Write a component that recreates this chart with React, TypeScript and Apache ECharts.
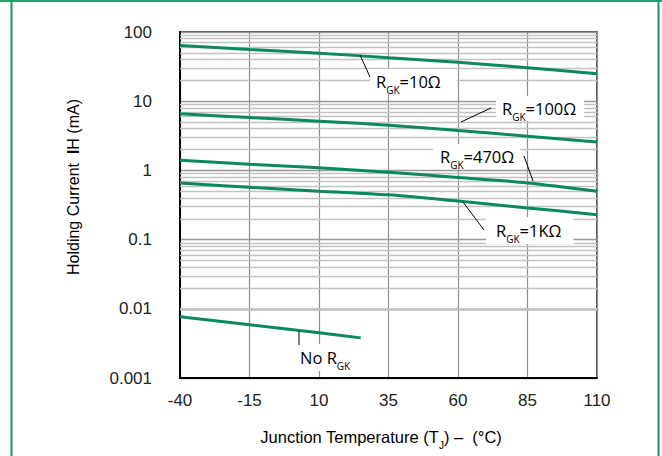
import React, { useEffect, useRef } from "react";
import * as echarts from "echarts";

const temps = [-40, -15, 10, 35, 60, 85, 110];
const rgk10 = [64, 56, 49.5, 42.5, 36.5, 30.5, 25];
const rgk100 = [6.6, 5.8, 5.15, 4.5, 3.77, 3.12, 2.58];
const rgk470 = [1.4, 1.23, 1.09, 0.94, 0.79, 0.66, 0.5];
const rgk1k = [0.655, 0.57, 0.5, 0.443, 0.36, 0.287, 0.229];
const noRgkTemps = [-40, -15, 10, 25];
const noRgk = [0.0077, 0.0059, 0.0045, 0.0038];

const yTickLabels = ["0.001", "0.01", "0.1", "1", "10", "100"];
const decades = [0.001, 0.01, 0.1, 1, 10];
const minorSteps = [2, 3, 4, 5, 6, 7, 8, 9];

const GREEN = "#0a8a5c";
const ANN_FONT = "'Open Sans', 'Noto Sans', sans-serif";
const TICK_FONT = "'Liberation Sans', Arial, sans-serif";

const pair = (xs: number[], ys: number[]) => xs.map((x, i) => [x, ys[i]]);

const richAnn = {
  r: { fontSize: 16.5, fontFamily: ANN_FONT, color: "#111", lineHeight: 20, verticalAlign: "middle" },
  s: { fontSize: 10, fontFamily: ANN_FONT, color: "#111", lineHeight: 20, verticalAlign: "bottom", padding: [0, 0, -4, 0] },
};

function annText(x: number, y: number, text: string, padding: number[]) {
  return {
    type: "text",
    x,
    y,
    z: 100,
    style: {
      text,
      rich: richAnn,
      align: "left",
      verticalAlign: "top",
      backgroundColor: "#fff",
      padding,
    },
  };
}

function leader(x1: number, y1: number, x2: number, y2: number) {
  return {
    type: "line",
    z: 110,
    shape: { x1, y1, x2, y2 },
    style: { stroke: "#000", lineWidth: 1 },
  };
}

export default function App() {
  const ref = useRef<HTMLDivElement>(null);
  useEffect(() => {
    document.body.style.margin = "0";
    const chart = echarts.init(ref.current!, undefined, { renderer: "svg" });
    const minorValues: number[] = [];
    decades.forEach((d) => minorSteps.forEach((k) => minorValues.push(+(d * k).toPrecision(3))));

    const curve = (name: string, data: number[][]) => ({
      name,
      type: "line",
      data,
      showSymbol: false,
      smooth: 0.3,
      z: 5,
      lineStyle: { color: GREEN, width: 3 },
      itemStyle: { color: GREEN },
    });

    chart.setOption({
      animation: false,
      backgroundColor: "#fff",
      grid: {
        left: 180,
        right: 65,
        top: 32,
        bottom: 78,
        show: true,
        borderColor: "#222",
        borderWidth: 1.5,
      },
      xAxis: {
        type: "value",
        min: -40,
        max: 110,
        interval: 25,
        axisLine: { show: true, onZero: false, lineStyle: { color: "#000", width: 2 } },
        axisTick: { show: false },
        axisLabel: { margin: 14, fontSize: 17, color: "#222", fontFamily: TICK_FONT },
        splitLine: { show: true, lineStyle: { color: "#8f8f8f", width: 1.2 } },
      },
      yAxis: {
        type: "log",
        logBase: 10,
        min: 0.001,
        max: 100,
        axisLine: { show: true, onZero: false, lineStyle: { color: "#000", width: 2 } },
        axisTick: { show: false },
        axisLabel: {
          margin: 28,
          fontSize: 17,
          color: "#222",
          fontFamily: TICK_FONT,
          formatter: (v: number) => yTickLabels[Math.round(Math.log10(v)) + 3],
        },
        splitLine: { show: true, lineStyle: { color: "#999", width: 1.3 } },
      },
      series: [
        {
          type: "line",
          data: [],
          z: 1,
          silent: true,
          markLine: {
            silent: true,
            symbol: ["none", "none"],
            label: { show: false },
            lineStyle: { color: "#c2c2c2", width: 1.3, type: "solid" },
            data: minorValues.map((v) => ({ yAxis: v })),
          },
        },
        curve("RGK=10Ω", pair(temps, rgk10)),
        curve("RGK=100Ω", pair(temps, rgk100)),
        curve("RGK=470Ω", pair(temps, rgk470)),
        curve("RGK=1KΩ", pair(temps, rgk1k)),
        curve("No RGK", pair(noRgkTemps, noRgk)),
      ],
      graphic: [
        { type: "line", z: 200, shape: { x1: 0, y1: 1, x2: 662, y2: 1 }, style: { stroke: "#2e9c6c", lineWidth: 2 } },
        { type: "line", z: 200, shape: { x1: 11.5, y1: 0, x2: 11.5, y2: 456 }, style: { stroke: "#1f9462", lineWidth: 2 } },
        { type: "line", z: 200, shape: { x1: 658.5, y1: 0, x2: 658.5, y2: 456 }, style: { stroke: "#1f9462", lineWidth: 2 } },
        annText(370, 69, "{r|R}{s|GK}{r|=10Ω}", [2, 16, 3, 6]),
        leader(360, 55, 370, 77),
        annText(496, 96, "{r|R}{s|GK}{r|=100Ω}", [2, 8, 3, 6]),
        leader(461, 122, 491, 108),
        annText(433, 144, "{r|R}{s|GK}{r|=470Ω}", [2, 6, 3, 7]),
        leader(524, 156, 533, 181),
        annText(486, 217, "{r|R}{s|GK}{r|=1KΩ}", [3, 12, 4, 10]),
        leader(463, 202, 484, 230),
        annText(293, 344, "{r|No R}{s|GK}", [3, 9, 4, 7]),
        leader(299, 331, 299, 345),
        {
          type: "text",
          x: 73,
          y: 187,
          rotation: Math.PI / 2,
          z: 100,
          style: {
            text: "{n|Holding Current  }{b|I}{n|H (mA)}",
            align: "center",
            verticalAlign: "middle",
            rich: {
              n: { fontSize: 16, fontFamily: TICK_FONT, color: "#222" },
              b: { fontSize: 16, fontFamily: TICK_FONT, color: "#222", fontWeight: "bold" },
            },
          },
        },
        {
          type: "text",
          x: 381,
          y: 437,
          z: 100,
          style: {
            text: "{n|Junction Temperature (T}{s|J}{n|) –  (°C)}",
            align: "center",
            verticalAlign: "middle",
            rich: {
              n: { fontSize: 16.5, fontFamily: TICK_FONT, color: "#222", lineHeight: 20, verticalAlign: "middle" },
              s: { fontSize: 10, fontFamily: TICK_FONT, color: "#222", lineHeight: 20, verticalAlign: "bottom", padding: [0, 0, -3, 0] },
            },
          },
        },
      ],
    });
    return () => chart.dispose();
  }, []);
  return <div ref={ref} style={{ width: 662, height: 456 }} />;
}
